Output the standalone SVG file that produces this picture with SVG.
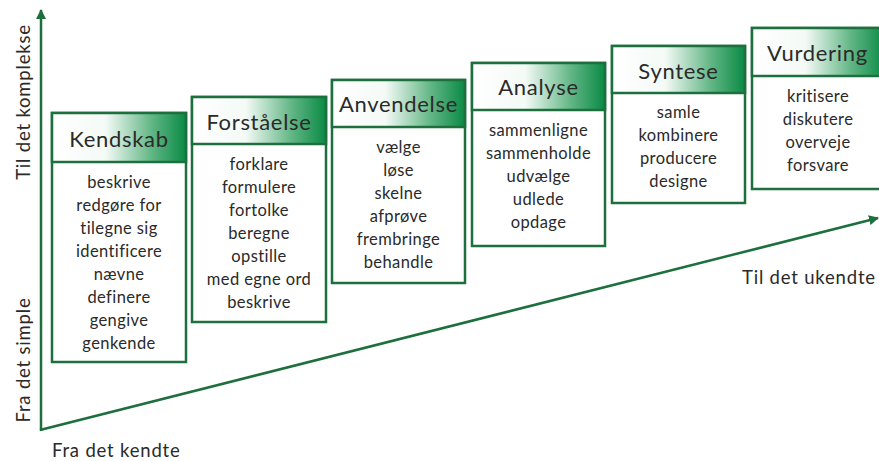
<svg xmlns="http://www.w3.org/2000/svg" width="879" height="461" viewBox="0 0 879 461">
<defs>
<linearGradient id="hg" x1="0" y1="0" x2="1" y2="0">
<stop offset="0" stop-color="#ffffff"/>
<stop offset="0.4" stop-color="#f4faf6"/>
<stop offset="0.75" stop-color="#5fb583"/>
<stop offset="1" stop-color="#0a8a45"/>
</linearGradient>
<marker id="ah" viewBox="0 0 10 10" refX="9" refY="5" markerWidth="4" markerHeight="4" orient="auto" markerUnits="strokeWidth">
<path d="M0,0 L10,5 L0,10 z" fill="#1d6f3d"/>
</marker>
</defs>
<style>
.box{fill:#fff;stroke:#1d6f3d;stroke-width:2.5}
.hd{fill:url(#hg);stroke:#1d6f3d;stroke-width:2.5}
.ht{font-family:Lato,"Liberation Sans",sans-serif;font-size:22px;letter-spacing:0.7px;fill:#2a2a2a;text-anchor:middle}
.bt{font-family:Lato,"Liberation Sans",sans-serif;font-size:16.5px;letter-spacing:0.4px;fill:#2a2a2a;text-anchor:middle}
.ax{font-family:Lato,"Liberation Sans",sans-serif;font-size:18.5px;letter-spacing:0.8px;fill:#2a2a2a}
.axl{fill:none;stroke:#1d6f3d;stroke-width:2.5}
</style>
<rect width="879" height="461" fill="#fff"/>
<g id="connectors">
<line class="axl" x1="41" y1="431" x2="41" y2="10" marker-end="url(#ah)"/>
<line class="axl" x1="40" y1="430" x2="878" y2="218" marker-end="url(#ah)"/>
</g>
<g id="axis-labels">
<text class="ax" text-anchor="middle" transform="translate(30,102) rotate(-90)">Til det komplekse</text>
<text class="ax" text-anchor="middle" transform="translate(30,360) rotate(-90)">Fra det simple</text>
<text class="ax" x="52" y="457">Fra det kendte</text>
<text class="ax" x="742" y="284">Til det ukendte</text>
</g>
<g id="kendskab">
<rect class="box" x="52" y="113" width="134" height="249"/>
<rect class="hd" x="52" y="113" width="134" height="49"/>
<text class="ht" x="119" y="147">Kendskab</text>
<text class="bt" x="119" y="188">beskrive</text>
<text class="bt" x="119" y="211">redgøre for</text>
<text class="bt" x="119" y="234">tilegne sig</text>
<text class="bt" x="119" y="257">identificere</text>
<text class="bt" x="119" y="280">nævne</text>
<text class="bt" x="119" y="303">definere</text>
<text class="bt" x="119" y="326">gengive</text>
<text class="bt" x="119" y="349">genkende</text>
</g>
<g id="forstaaelse">
<rect class="box" x="192" y="97" width="134" height="225"/>
<rect class="hd" x="192" y="97" width="134" height="47"/>
<text class="ht" x="259" y="130">Forståelse</text>
<text class="bt" x="259" y="170">forklare</text>
<text class="bt" x="259" y="193">formulere</text>
<text class="bt" x="259" y="216">fortolke</text>
<text class="bt" x="259" y="239">beregne</text>
<text class="bt" x="259" y="262">opstille</text>
<text class="bt" x="259" y="285">med egne ord</text>
<text class="bt" x="259" y="308">beskrive</text>
</g>
<g id="anvendelse">
<rect class="box" x="332" y="80" width="133" height="203"/>
<rect class="hd" x="332" y="80" width="133" height="47"/>
<text class="ht" x="398.5" y="112">Anvendelse</text>
<text class="bt" x="398.5" y="153">vælge</text>
<text class="bt" x="398.5" y="176">løse</text>
<text class="bt" x="398.5" y="199">skelne</text>
<text class="bt" x="398.5" y="222">afprøve</text>
<text class="bt" x="398.5" y="245">frembringe</text>
<text class="bt" x="398.5" y="268">behandle</text>
</g>
<g id="analyse">
<rect class="box" x="472" y="63" width="133" height="183"/>
<rect class="hd" x="472" y="63" width="133" height="47"/>
<text class="ht" x="538.5" y="95">Analyse</text>
<text class="bt" x="538.5" y="136">sammenligne</text>
<text class="bt" x="538.5" y="159">sammenholde</text>
<text class="bt" x="538.5" y="182">udvælge</text>
<text class="bt" x="538.5" y="205">udlede</text>
<text class="bt" x="538.5" y="228">opdage</text>
</g>
<g id="syntese">
<rect class="box" x="612" y="46" width="133" height="157"/>
<rect class="hd" x="612" y="46" width="133" height="47"/>
<text class="ht" x="678.5" y="79">Syntese</text>
<text class="bt" x="678.5" y="118">samle</text>
<text class="bt" x="678.5" y="141">kombinere</text>
<text class="bt" x="678.5" y="164">producere</text>
<text class="bt" x="678.5" y="187">designe</text>
</g>
<g id="vurdering">
<rect class="box" x="752" y="28" width="133" height="161"/>
<rect class="hd" x="752" y="28" width="133" height="48"/>
<text class="ht" x="817.5" y="61">Vurdering</text>
<text class="bt" x="818" y="102">kritisere</text>
<text class="bt" x="818" y="125">diskutere</text>
<text class="bt" x="818" y="148">overveje</text>
<text class="bt" x="818" y="171">forsvare</text>
</g>
</svg>
